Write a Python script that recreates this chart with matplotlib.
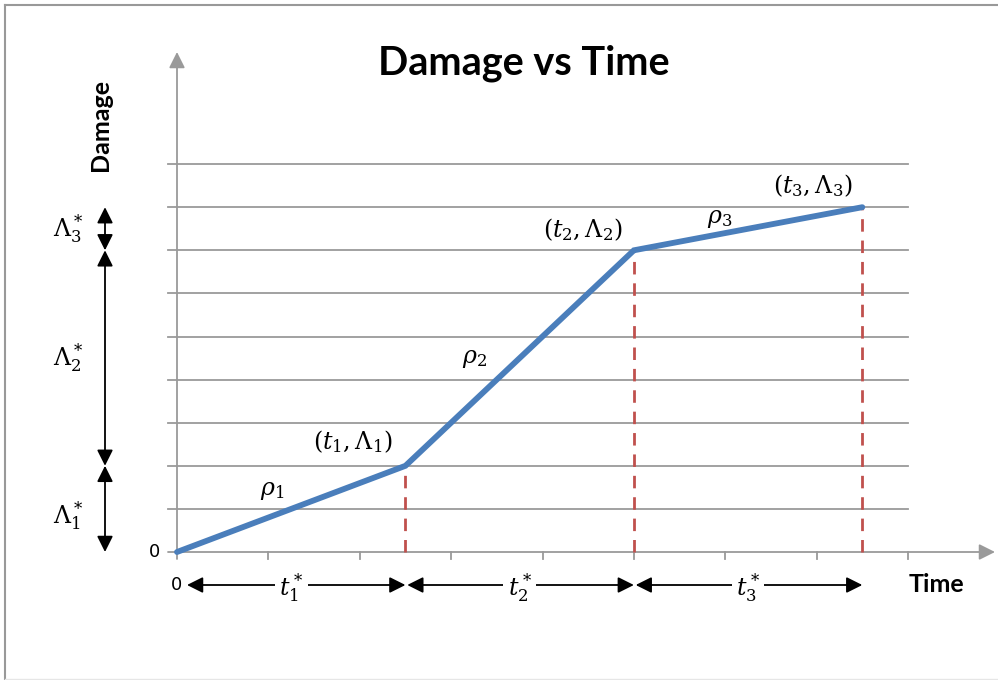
import matplotlib
matplotlib.use("Agg")
import matplotlib.pyplot as plt
from matplotlib.lines import Line2D

# Piecewise-linear damage path
times = [0.0, 2.5, 5.0, 7.5]
damage = [0.0, 2.0, 7.0, 8.0]

x_ticks = [1, 2, 3, 4, 5, 6, 7, 8]
grid_levels = [1, 2, 3, 4, 5, 6, 7, 8, 9]

point_labels = [r"$(t_1,\Lambda_1)$", r"$(t_2,\Lambda_2)$", r"$(t_3,\Lambda_3)$"]
rate_labels = [r"$\rho_1$", r"$\rho_2$", r"$\rho_3$"]
dt_labels = [r"$t_1^*$", r"$t_2^*$", r"$t_3^*$"]
dl_labels = [r"$\Lambda_1^*$", r"$\Lambda_2^*$", r"$\Lambda_3^*$"]

plt.rcParams["mathtext.fontset"] = "dejavuserif"

W, H = 998, 680
fig = plt.figure(figsize=(W / 100, H / 100), dpi=100)
ax = fig.add_axes([0, 0, 1, 1])
ax.set_axis_off()

# data -> pixel mapping: origin at (177, 552) from top-left
sx, sy = 91.375, 43.1
ox, oy = 177, 680 - 552
ax.set_xlim(-ox / sx, (W - ox) / sx)
ax.set_ylim(-oy / sy, (H - oy) / sy)

gray = "#9a9a9a"
xmax_grid = 8.0

# horizontal grid lines (extend slightly left as tick marks)
for g in grid_levels:
    ax.plot([-9 / sx, xmax_grid], [g, g], color=gray, lw=1.3, zorder=1)

# axes with arrow heads
ax.annotate("", xy=(995 / sx - ox / sx, 0), xytext=(-9 / sx, 0),
            arrowprops=dict(arrowstyle="-|>", color=gray, lw=1.3,
                            mutation_scale=24, shrinkA=0, shrinkB=0), zorder=2)
ax.annotate("", xy=(0, (552 - 52) / sy), xytext=(0, -7 / sy),
            arrowprops=dict(arrowstyle="-|>", color=gray, lw=1.3,
                            mutation_scale=24, shrinkA=0, shrinkB=0), zorder=2)
for xt in x_ticks:
    ax.plot([xt, xt], [0, -7 / sy], color=gray, lw=1.3, zorder=2)

# dashed drop lines
red = "#c0504d"
for t, d in zip(times[1:], damage[1:]):
    ax.plot([t, t], [0, d], color=red, lw=2, ls=(0, (4.5, 3.2)), zorder=3)

# damage path
ax.plot(times, damage, color="#4a7ebb", lw=4.2, solid_capstyle="round",
        solid_joinstyle="miter", zorder=4)

fs = 17
# point labels
pt_offsets = [(-0.57, 0.55), (-0.56, 0.47), (-0.54, 0.5)]
for lab, t, d, (dx, dy) in zip(point_labels, times[1:], damage[1:], pt_offsets):
    ax.text(t + dx, d + dy, lab, fontsize=fs, ha="center", va="center")

# slope labels
rate_pos = [(1.04, 1.44), (3.26, 4.5), (5.94, 7.75)]
for lab, (x, y) in zip(rate_labels, rate_pos):
    ax.text(x, y, lab, fontsize=fs, ha="center", va="center")

# time-interval arrows below the axis
ya = -33 / sy
starts = [10 / sx] + times[1:-1]
for i, (a, b) in enumerate(zip(starts, times[1:])):
    ax.annotate("", xy=(b, ya), xytext=(a + (0 if i == 0 else 0.02), ya),
                arrowprops=dict(arrowstyle="<|-|>", color="black", lw=1.3,
                                mutation_scale=24, shrinkA=0, shrinkB=0), zorder=3)
    mid = (times[i] + times[i + 1]) / 2
    ax.text(mid, ya - 0.05, dt_labels[i], fontsize=fs, ha="center", va="center",
            bbox=dict(facecolor="white", edgecolor="none", pad=3), zorder=5)

# damage-interval arrows left of the axis
xa = (105 - ox) / sx
for i in range(3):
    a, b = damage[i], damage[i + 1]
    ax.annotate("", xy=(xa, b), xytext=(xa, a),
                arrowprops=dict(arrowstyle="<|-|>", color="black", lw=1.3,
                                mutation_scale=24, shrinkA=0, shrinkB=0), zorder=3)
dl_pos = [(-1.19, (552 - 515) / sy), (-1.19, (552 - 357) / sy), (-1.19, (552 - 228) / sy)]
for lab, (x, y) in zip(dl_labels, dl_pos):
    ax.text(x, y, lab, fontsize=fs, ha="center", va="center")

# origin labels
ax.text(-22 / sx, 0, "0", fontsize=13, ha="center", va="center")
ax.text(0, ya, "0", fontsize=13, ha="center", va="center",
        bbox=dict(facecolor="white", edgecolor="none", pad=1), zorder=5)

# titles
ax.text((524 - ox) / sx, (552 - 63) / sy, "Damage vs Time", fontsize=28.5,
        fontweight="bold", family="Lato", ha="center", va="center")
ax.text((100 - ox) / sx, (552 - 125) / sy, "Damage", fontsize=18,
        fontweight="bold", family="Lato", ha="center", va="center", rotation=90)
ax.text((936 - ox) / sx, ya, "Time", fontsize=18,
        fontweight="bold", family="Lato", ha="center", va="center")

# thin frame around the figure
fig.add_artist(Line2D([5 / W, 5 / W], [0, 1 - 5 / H], color="#999999", lw=1.5))
fig.add_artist(Line2D([5 / W, 1], [1 - 5 / H, 1 - 5 / H], color="#999999", lw=1.5))
fig.add_artist(Line2D([5 / W, 1], [1.5 / H, 1.5 / H], color="#e6e6e6", lw=1))

fig.savefig("out.png", dpi=100)
